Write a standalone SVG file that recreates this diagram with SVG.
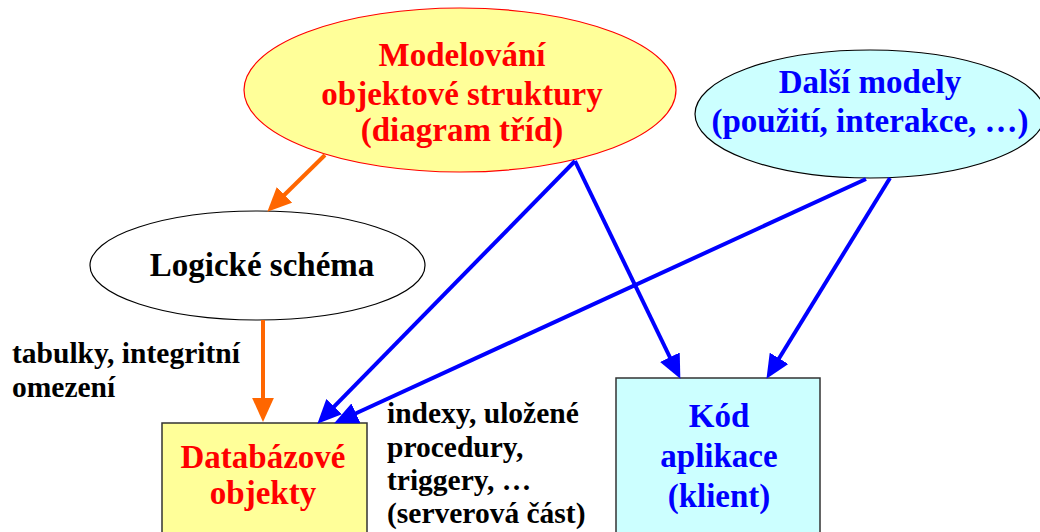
<svg xmlns="http://www.w3.org/2000/svg" width="1040" height="532" viewBox="0 0 1040 532">
<style>
.f{font-family:"Liberation Serif","Times New Roman",Times,serif;font-weight:700;}
.n{font-size:33px;text-anchor:middle;}
.l{font-size:29.5px;fill:#000;}
.red{fill:#FF0000;}
.blue{fill:#0000FF;}
.blk{fill:#000;}
.or{stroke:#FF6600;stroke-width:4;fill:none;marker-end:url(#ao);}
.bl{stroke:#0000FF;stroke-width:4;fill:none;marker-end:url(#ab);}
</style>
<defs>
<marker id="ao" markerUnits="userSpaceOnUse" markerWidth="24" markerHeight="22" refX="12" refY="10" orient="auto" viewBox="0 0 22 20"><path d="M0,0 L22,10 L0,20 z" fill="#FF6600"/></marker>
<marker id="ab" markerUnits="userSpaceOnUse" markerWidth="24" markerHeight="22" refX="12" refY="10" orient="auto" viewBox="0 0 22 20"><path d="M0,0 L22,10 L0,20 z" fill="#0000FF"/></marker>
</defs>
<rect width="1040" height="532" fill="#fff"/>
<g class="f">
<g id="node-modelovani">
<ellipse cx="460" cy="90" rx="216" ry="82" fill="#FFFF99" stroke="#FF0000" stroke-width="1.2"/>
<text class="n red" x="462" y="66">Modelování</text>
<text class="n red" x="462" y="105">objektové struktury</text>
<text class="n red" x="462" y="141">(diagram tříd)</text>
</g>
<g id="node-dalsi">
<ellipse cx="870" cy="114" rx="175" ry="64" fill="#CCFFFF" stroke="#000" stroke-width="1.2"/>
<text class="n blue" x="870" y="93">Další modely</text>
<text class="n blue" x="870" y="132">(použití, interakce, …)</text>
</g>
<g id="node-logicke">
<ellipse cx="257.5" cy="265.5" rx="167.5" ry="54.5" fill="#fff" stroke="#000" stroke-width="1.2"/>
<text class="n blk" x="262" y="276">Logické schéma</text>
</g>
<g id="node-databazove">
<rect x="162" y="423" width="205" height="120" fill="#FFFF99" stroke="#333" stroke-width="1.5"/>
<text class="n red" x="263" y="468">Databázové</text>
<text class="n red" x="263" y="504">objekty</text>
</g>
<g id="node-kod">
<rect x="616" y="378" width="204" height="170" fill="#CCFFFF" stroke="#333" stroke-width="1.5"/>
<text class="n blue" x="719" y="427">Kód</text>
<text class="n blue" x="719" y="467">aplikace</text>
<text class="n blue" x="719" y="507">(klient)</text>
</g>
<g id="labels">
<text class="l" x="12" y="363">tabulky, integritní</text>
<text class="l" x="12" y="397">omezení</text>
<text class="l" x="387" y="423">indexy, uložené</text>
<text class="l" x="387" y="457">procedury,</text>
<text class="l" x="387" y="490">triggery, …</text>
<text class="l" x="387" y="523">(serverová část)</text>
</g>
</g>
<g id="connectors">
<line class="or" x1="325" y1="155" x2="275.1" y2="204"/>
<line class="or" x1="263" y1="320" x2="263" y2="411"/>
<line class="bl" x1="575" y1="161" x2="325" y2="415.9"/>
<line class="bl" x1="866" y1="179" x2="344.1" y2="418.8"/>
<line class="bl" x1="575" y1="161" x2="675.6" y2="369"/>
<line class="bl" x1="890" y1="178" x2="772.2" y2="369.5"/>
</g>
</svg>
